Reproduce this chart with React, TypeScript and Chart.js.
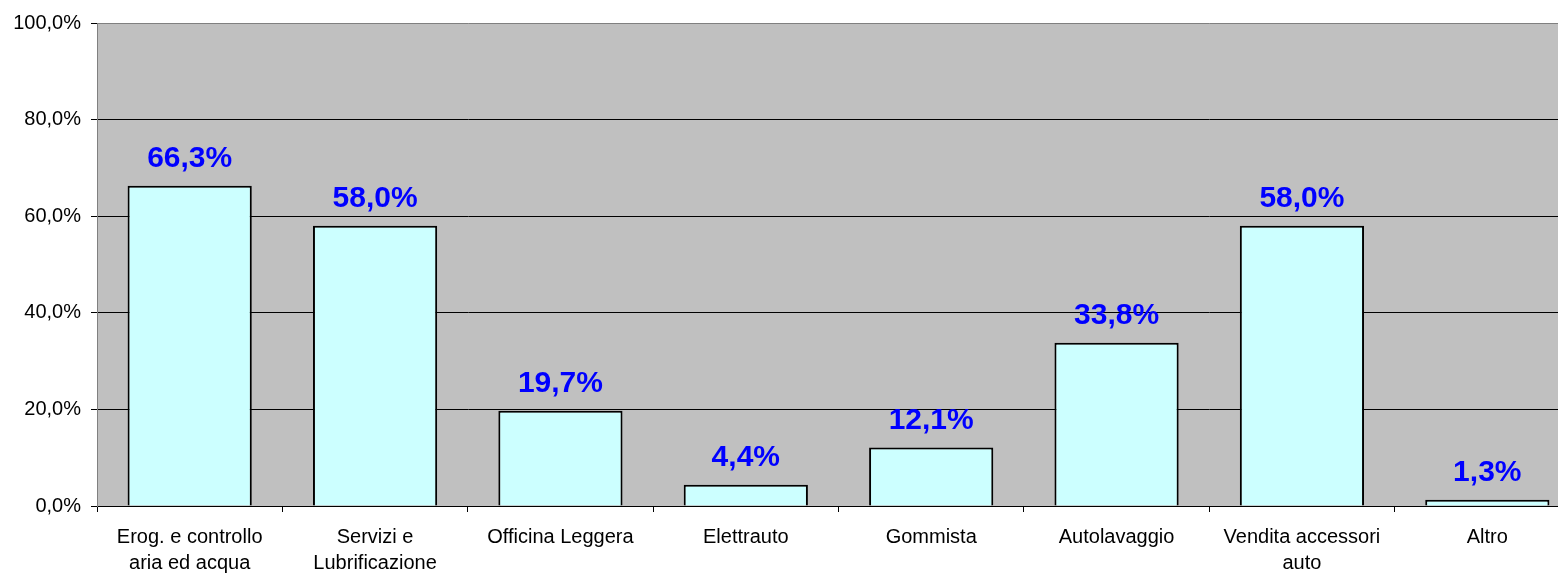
import React, { useEffect, useRef } from "react";
import { Chart, registerables } from "chart.js";

Chart.register(...registerables);

const categories: (string | string[])[] = [
  ["Erog. e controllo", "aria ed acqua"],
  ["Servizi e", "Lubrificazione"],
  "Officina Leggera",
  "Elettrauto",
  "Gommista",
  "Autolavaggio",
  ["Vendita accessori", "auto"],
  "Altro",
];
const values: number[] = [66.3, 58.0, 19.7, 4.4, 12.1, 33.8, 58.0, 1.3];
const yTicks: number[] = [0, 20, 40, 60, 80, 100];

const FONT = "'Liberation Sans', Arial, sans-serif";
const fmt = (v: number) => v.toFixed(1).replace(".", ",") + "%";

const bgPlugin = {
  id: "plotBg",
  beforeDraw(chart: any) {
    const { ctx, chartArea } = chart;
    ctx.save();
    ctx.fillStyle = "#C0C0C0";
    ctx.fillRect(chartArea.left, chartArea.top, chartArea.right - chartArea.left, chartArea.bottom - chartArea.top);
    ctx.restore();
  },
};

const labelPlugin = {
  id: "valueLabels",
  afterDatasetsDraw(chart: any) {
    const { ctx } = chart;
    const meta = chart.getDatasetMeta(0);
    ctx.save();
    ctx.font = `bold 30px ${FONT}`;
    ctx.fillStyle = "#0000FF";
    ctx.textAlign = "center";
    ctx.textBaseline = "alphabetic";
    meta.data.forEach((bar: any, i: number) => {
      ctx.fillText(fmt(values[i]), bar.x, bar.y - 19);
    });
    ctx.restore();
  },
};

export default function App() {
  const ref = useRef<HTMLCanvasElement>(null);
  useEffect(() => {
    if (!ref.current) return;
    const chart = new Chart(ref.current, {
      type: "bar",
      data: {
        labels: categories,
        datasets: [
          {
            data: values,
            backgroundColor: "#CCFFFF",
            borderColor: "#000000",
            borderWidth: 2,
            barPercentage: 0.67,
            categoryPercentage: 1,
          },
        ],
      },
      options: {
        animation: false,
        responsive: false,
        devicePixelRatio: 1,
        layout: { padding: { top: 23, right: 2, left: 0, bottom: 0 } },
        plugins: { legend: { display: false }, tooltip: { enabled: false } },
        scales: {
          x: {
            afterFit(scale: any) {
              scale.height = 67;
            },
            grid: {
              offset: true,
              drawOnChartArea: false,
              drawTicks: true,
              tickLength: 6,
              color: "#000000",
            },
            border: { color: "#000000", width: 1 },
            ticks: {
              color: "#000000",
              padding: 12,
              maxRotation: 0,
              autoSkip: false,
              font: { family: FONT, size: 20, lineHeight: 1.3 },
            },
          },
          y: {
            min: 0,
            max: 100,
            afterFit(scale: any) {
              scale.width = 97;
            },
            afterBuildTicks(scale: any) {
              scale.ticks = yTicks.map((v) => ({ value: v }));
            },
            grid: {
              color: (c: any) => (c.tick && c.tick.value === 100 ? "#808080" : "#000000"),
              tickColor: "#000000",
              tickLength: 6,
              lineWidth: 1,
            },
            border: { color: "#808080", width: 1 },
            ticks: {
              color: "#000000",
              padding: 10,
              callback: (v: any) => fmt(Number(v)),
              font: { family: FONT, size: 20 },
            },
          },
        },
      },
      plugins: [bgPlugin, labelPlugin],
    } as any);
    return () => chart.destroy();
  }, []);
  return (
    <div style={{ position: "absolute", left: 0, top: 0, width: 1558, height: 573, overflow: "hidden", background: "#fff" }}>
      <canvas ref={ref} width={1582} height={573} style={{ width: 1582, height: 573, display: "block" }} />
    </div>
  );
}
